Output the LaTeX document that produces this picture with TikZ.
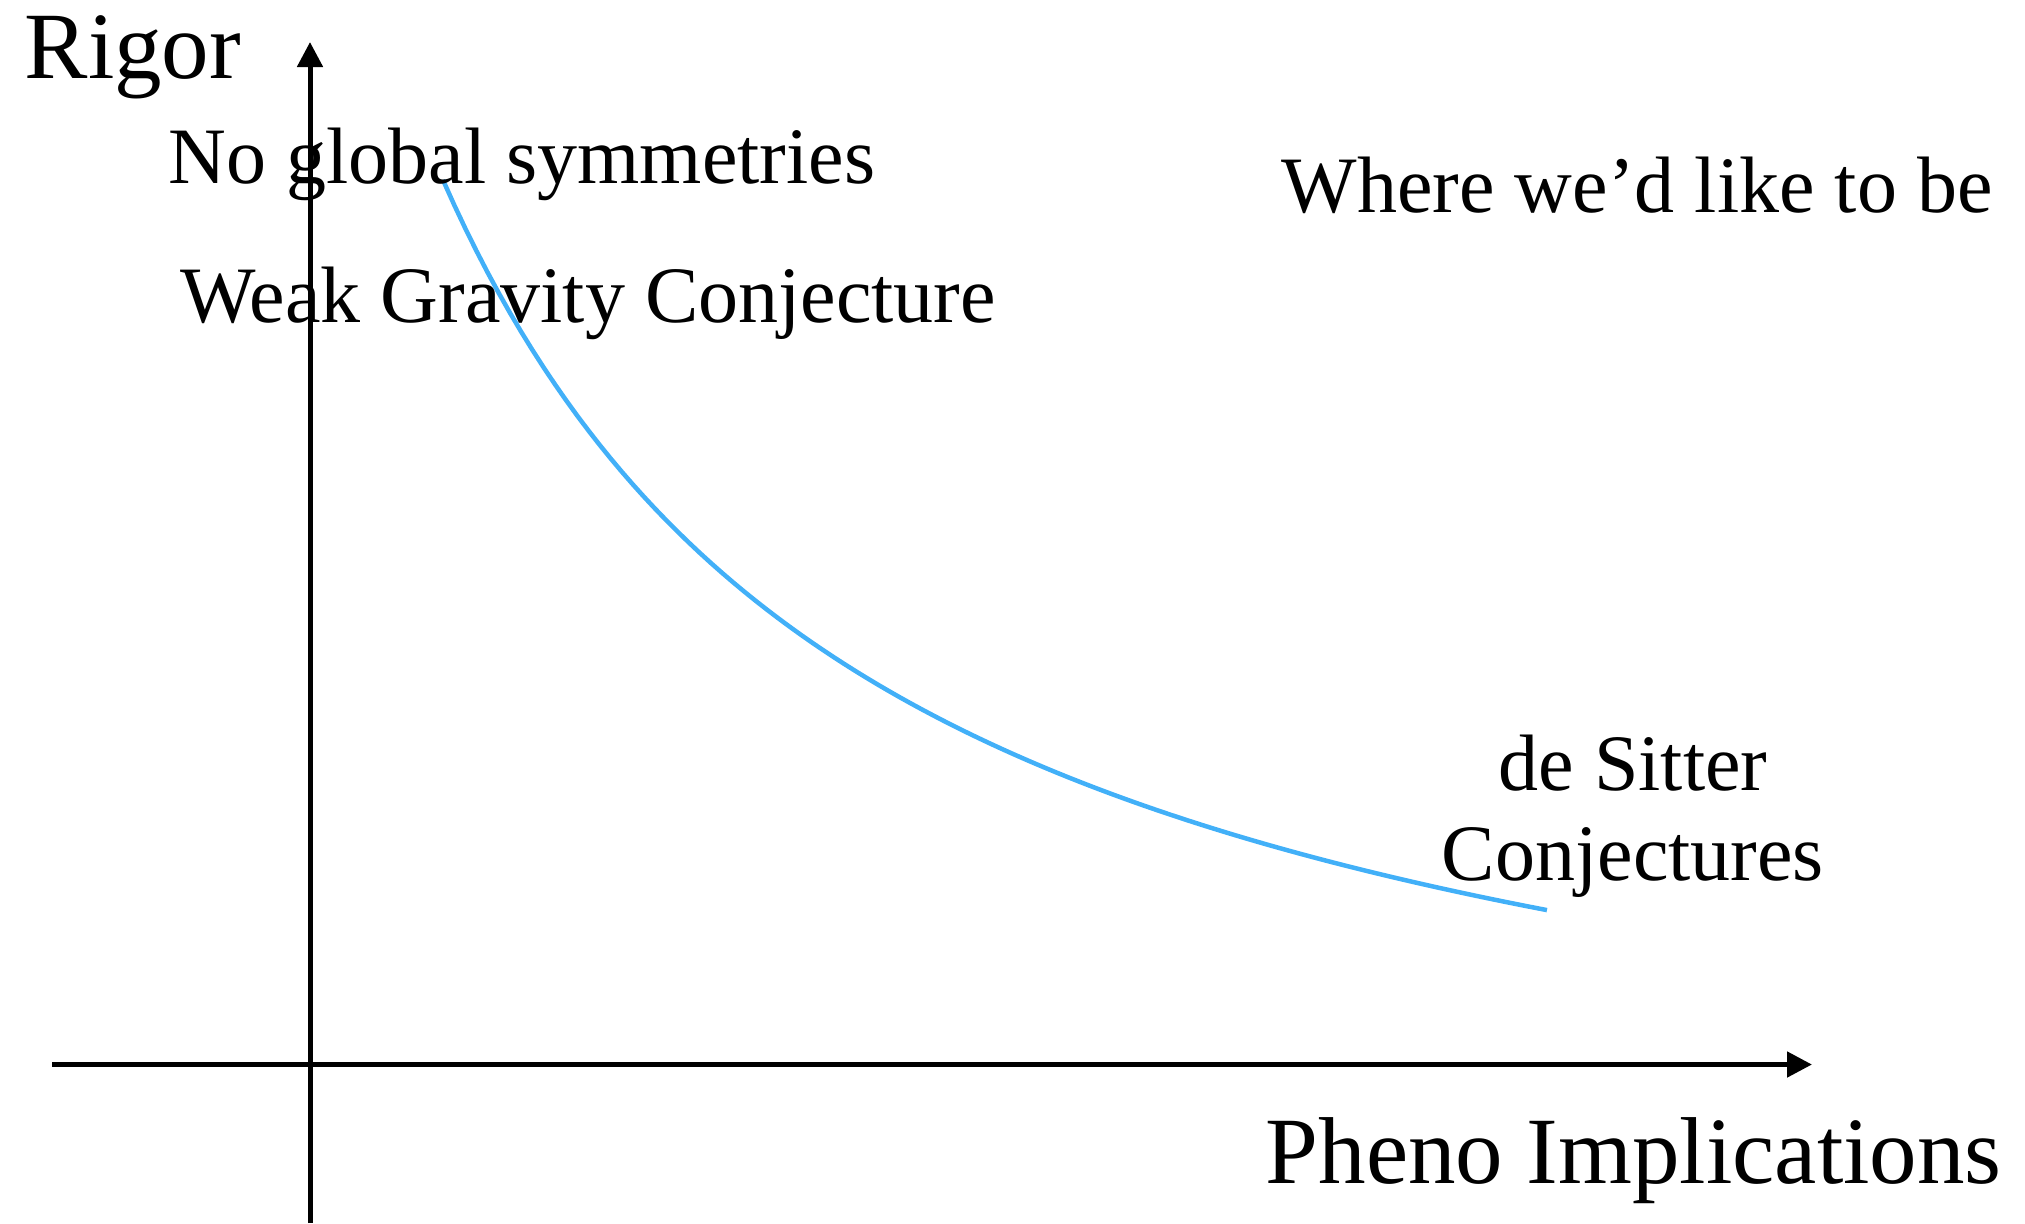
\documentclass[tikz,border=0pt]{standalone}
\usepackage{fontspec}
\setmainfont{Liberation Serif}
\usetikzlibrary{arrows.meta}
\definecolor{curveblue}{RGB}{66,176,248}
\begin{document}
\begin{tikzpicture}[x=1cm,y=-1cm,
  axis/.style={line width=0.05cm,-{Triangle[length=0.25cm,width=0.25cm]}},
  bigtxt/.style={inner sep=0pt,anchor=base west,font=\fontsize{27.03pt}{32pt}\selectfont},
  smalltxt/.style={inner sep=0pt,anchor=base west,font=\fontsize{22.76pt}{25.6pt}\selectfont},
  curvestyle/.style={draw=curveblue,line width=0.045cm}]
\useasboundingbox (0,0) rectangle (20.25,12.23);
% axes
\coordinate (ybot) at (3.10,12.23);
\coordinate (ytop) at (3.10,0.42);
\coordinate (xleft) at (0.52,10.645);
\coordinate (xright) at (18.12,10.645);
\draw[axis] (ybot) -- (ytop);
\draw[axis] (xleft) -- (xright);
% curve
\draw[curvestyle] plot[domain=4.43:15.47,samples=100] (\x,{12.089-46.49/(\x+0.0885)});
% labels
\node[bigtxt] (rigor) at (0.24,0.78) {Rigor};
\node[bigtxt] (pheno) at (12.65,11.83) {Pheno Implications};
\node[smalltxt] (noglobal) at (1.68,1.83) {No global symmetries};
\node[smalltxt] (where) at (12.81,2.12) {Where we’d like to be};
\node[smalltxt] (wgc) at (1.80,3.22) {Weak Gravity Conjecture};
\node[inner sep=0pt,anchor=base,align=center,font=\fontsize{22.76pt}{25.6pt}\selectfont] (desitter) at (16.33,8.80) {de Sitter\\Conjectures};
\end{tikzpicture}
\end{document}
